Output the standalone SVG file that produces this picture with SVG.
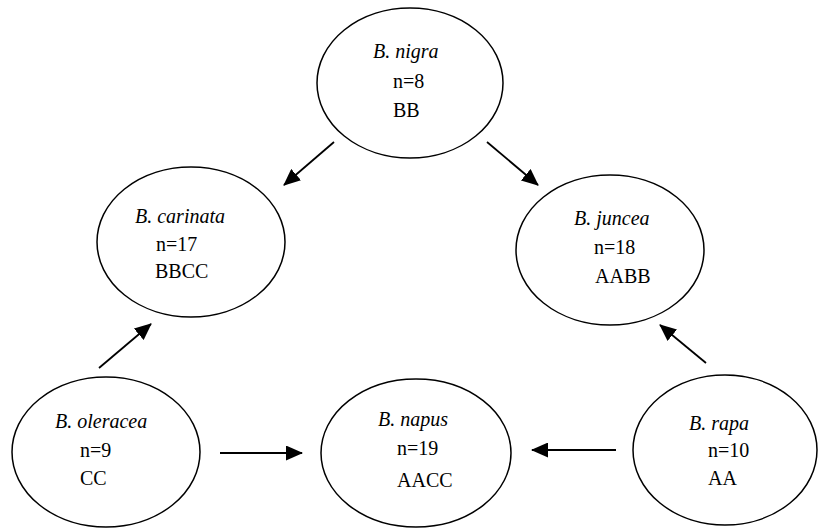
<svg xmlns="http://www.w3.org/2000/svg" width="818" height="529" viewBox="0 0 818 529">
<defs>
<style>
.node ellipse{fill:#fff;stroke:#000;stroke-width:1.5}
text{font-family:"Liberation Serif","Times New Roman",serif;font-size:20px;fill:#000}
.sp{font-style:italic}
.edge{stroke:#000;stroke-width:1.8;fill:none;marker-end:url(#ah)}
</style>
<marker id="ah" markerUnits="userSpaceOnUse" markerWidth="17" markerHeight="15" refX="16" refY="7.5" orient="auto">
<path d="M0,0 L17,7.5 L0,15 z" fill="#000"/>
</marker>
</defs>
<rect width="818" height="529" fill="#fff"/>
<g id="nigra" class="node">
<ellipse cx="410" cy="83" rx="93" ry="75"/>
<text x="373" y="58" class="sp">B. nigra</text>
<text x="393" y="88">n=8</text>
<text x="393" y="117">BB</text>
</g>
<g id="carinata" class="node">
<ellipse cx="191" cy="242" rx="94" ry="75"/>
<text x="135" y="223" class="sp">B. carinata</text>
<text x="156" y="251">n=17</text>
<text x="155" y="278">BBCC</text>
</g>
<g id="juncea" class="node">
<ellipse cx="610" cy="250" rx="94" ry="75"/>
<text x="574" y="225" class="sp">B. juncea</text>
<text x="594" y="254">n=18</text>
<text x="595" y="283">AABB</text>
</g>
<g id="oleracea" class="node">
<ellipse cx="106" cy="452" rx="94" ry="75"/>
<text x="55" y="428" class="sp">B. oleracea</text>
<text x="80" y="457">n=9</text>
<text x="80" y="485">CC</text>
</g>
<g id="napus" class="node">
<ellipse cx="416" cy="453" rx="95" ry="74"/>
<text x="378" y="426" class="sp">B. napus</text>
<text x="397" y="455">n=19</text>
<text x="397" y="487">AACC</text>
</g>
<g id="rapa" class="node">
<ellipse cx="725" cy="450" rx="92" ry="75"/>
<text x="689" y="430" class="sp">B. rapa</text>
<text x="708" y="457">n=10</text>
<text x="708" y="485">AA</text>
</g>
<g id="connectors">
<line class="edge" x1="334" y1="142" x2="284" y2="185"/>
<line class="edge" x1="487" y1="142" x2="538" y2="185"/>
<line class="edge" x1="99" y1="368" x2="151" y2="324"/>
<line class="edge" x1="706" y1="363" x2="660" y2="325"/>
<line class="edge" x1="220" y1="453" x2="302" y2="453"/>
<line class="edge" x1="616" y1="450" x2="532" y2="450"/>
</g>
</svg>
